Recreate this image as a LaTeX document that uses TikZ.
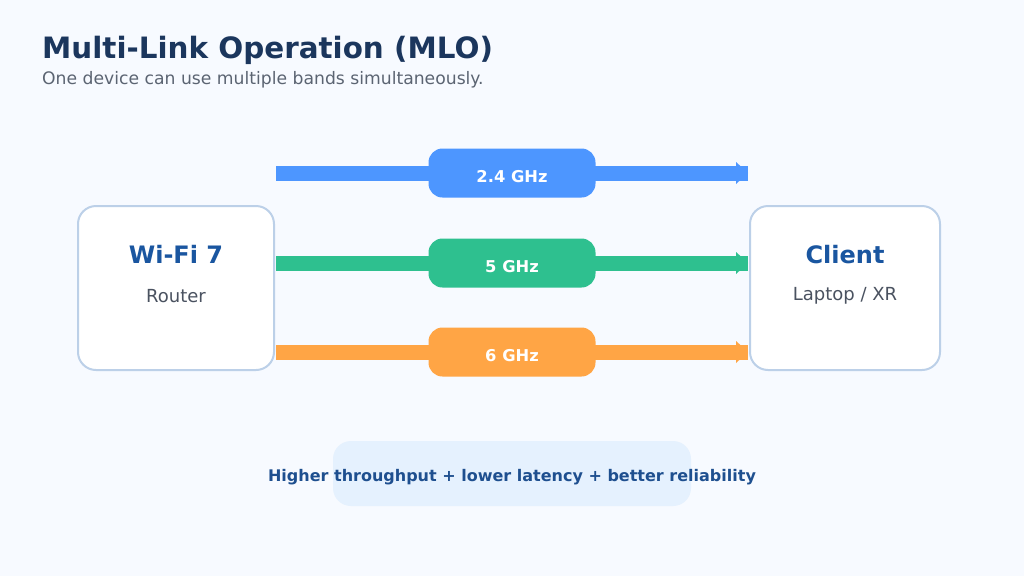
\documentclass[tikz,border=0pt]{standalone}
\usepackage{fontspec}
\setmainfont{DejaVu Sans}
\usetikzlibrary{calc}
\definecolor{bg}{HTML}{F7FAFF}
\definecolor{titlec}{HTML}{1B365D}
\definecolor{subc}{HTML}{5B6472}
\definecolor{boxline}{HTML}{BCD0E8}
\definecolor{nodet}{HTML}{1A56A0}
\definecolor{nodes}{HTML}{4A5260}
\definecolor{bandA}{HTML}{4D96FF}
\definecolor{bandB}{HTML}{2EC08F}
\definecolor{bandC}{HTML}{FFA545}
\definecolor{noteFill}{HTML}{E5F1FE}
\definecolor{notec}{HTML}{1E4F8F}
\tikzset{
  device/.style={draw=boxline, line width=2pt, fill=white, rounded corners=18pt, inner sep=0pt},
  pill/.style={fill=#1, rounded corners=14pt, minimum width=167pt, minimum height=49pt, inner sep=0pt,
    text=white, font=\bfseries\fontsize{16.3}{18}\selectfont, text height=18pt, text depth=0pt},
  band/.style={draw=#1, line width=15pt},
  head/.style={fill=#1},
  devtitle/.style={text=nodet, font=\bfseries\fontsize{24}{28}\selectfont, anchor=base, inner sep=0pt},
  devsub/.style={text=nodes, font=\fontsize{18}{21}\selectfont, anchor=base, inner sep=0pt},
}
\begin{document}
\begin{tikzpicture}[x=1pt,y=-1pt]
\fill[bg] (0,0) rectangle (1024,576);
\useasboundingbox (0,0) rectangle (1024,576);
% titles
\node[anchor=base west, inner sep=0pt, text=titlec, font=\bfseries\fontsize{29.4}{34}\selectfont] (title) at (42,58) {Multi-Link Operation (MLO)};
\node[anchor=base west, inner sep=0pt, text=subc, font=\fontsize{17.2}{20}\selectfont] (subtitle) at (42,84) {One device can use multiple bands simultaneously.};
% devices
\node[device, minimum width=196pt, minimum height=164pt] (router) at (176,288) {};
\node[device, minimum width=190pt, minimum height=164pt] (client) at (845,288) {};
\node[devtitle] (routerT) at (176,263) {Wi-Fi 7};
\node[devsub] (routerS) at (176,302) {Router};
\node[devtitle] (clientT) at (845,263) {Client};
\node[devsub] (clientS) at (845,300) {Laptop / XR};
% band coordinates
\coordinate (cA) at (512,173);
\coordinate (cB) at (512,263);
\coordinate (cC) at (512,352);
% band lines
\foreach \c/\col in {cA/bandA,cB/bandB,cC/bandC}{
  \draw[band=\col] ([xshift=1pt]router.east |- \c) -- ([xshift=-1pt]client.west |- \c);
  \fill[head=\col] ($(client.west |- \c)+(-13,-11)$) -- ($(client.west |- \c)+(-1,0)$) -- ($(client.west |- \c)+(-13,11)$) -- cycle;
}
% pills
\node[pill=bandA] (pA) at (cA) {2.4 GHz};
\node[pill=bandB] (pB) at (cB) {5 GHz};
\node[pill=bandC] (pC) at (cC) {6 GHz};
% note
\node[fill=noteFill, rounded corners=18pt, minimum width=358pt, minimum height=65pt, inner sep=0pt] (notebox) at (512,473.5) {};
\node[anchor=base, inner sep=0pt, text=notec, font=\bfseries\fontsize{16}{18}\selectfont] (note) at (512,481) {Higher throughput + lower latency + better reliability};
\end{tikzpicture}
\end{document}
